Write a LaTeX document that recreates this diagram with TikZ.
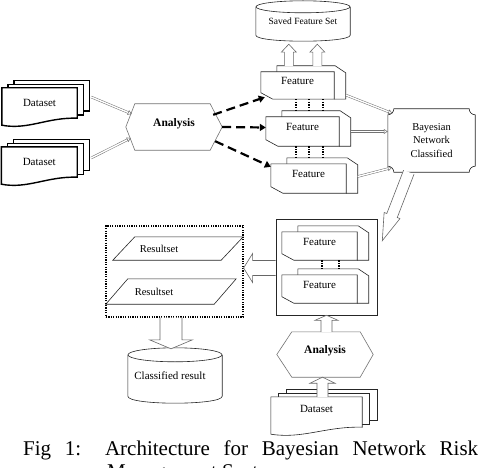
\documentclass[tikz,border=0pt]{standalone}
\usepackage{fontspec}
\setmainfont{Liberation Serif}
\usetikzlibrary{calc,arrows.meta,backgrounds}

\tikzset{
 lbl/.style={inner sep=0pt, font=\fontsize{11}{13}\selectfont},
 hexlbl/.style={inner sep=0pt, font=\bfseries\fontsize{11.5}{13}\selectfont, text depth=9pt},
 shp/.style={draw=black!85, line width=0.6pt, fill=white},
 grayshp/.style={draw=black!55, line width=0.6pt, fill=white},
 thickshp/.style={draw=black, line width=1.4pt, fill=white},
 dashar/.style={line width=2.2pt, dash pattern=on 9pt off 5pt, -{Triangle[length=6pt,width=7pt]}},
 dline/.style={draw=black!55, line width=0.5pt, double=white, double distance=1.4pt, -{Triangle[open,length=4pt,width=5pt]}},
 dotv/.style={line width=1.5pt, dash pattern=on 1.3pt off 1.3pt},
 blk/.style={draw=black!60, line width=0.6pt, fill=white},
 dotbox/.style={draw, line width=1.2pt, dash pattern=on 1.2pt off 1.2pt},
 captxt/.style={inner sep=0pt, font=\fontsize{21}{24}\selectfont},
}

\newcommand\docstack[4]{%
 \begin{scope}[on background layer]
 \draw[#4] ($(#1.north west)+(2*#2,-2*#3)$) rectangle ($(#1.south east)+(2*#2,-7)$);
 \draw[#4] ($(#1.north west)+(#2,-#3)$) rectangle ($(#1.south east)+(#2,-3)$);
 \draw[#4] (#1.north east) -- (#1.north west) -- ($(#1.south west)+(0,7)$) .. controls ($(#1.south west)!0.35!(#1.south east)+(0,12)$) and ($(#1.south west)!0.6!(#1.south east)+(0,-1)$) .. (#1.south east) -- cycle;
 \end{scope}}

\newcommand\featdraw[1]{%
 \begin{scope}[on background layer]
 \draw[shp] ($(#1.north west)+(16,0)$) -- ($(#1.north west)+(16,-6)$) -- ($(#1.north east)+(1,-6)$) -- ($(#1.north east)+(11.5,1)$) -- ($(#1.south east)+(11.5,0)$) -- (#1.south east);
 \draw[shp] (#1.north west) -- (#1.north east) -- (#1.south east) -- ($(#1.south west)+(12,0)$) -- ($(#1.south west)+(0,-6.5)$) -- cycle;
 \end{scope}}

\newcommand\hexdraw[3]{%
 \begin{scope}[on background layer]
 \draw[grayshp] (#1.west) -- ($(#1.north west)+(#2,0)$) -- ($(#1.north east)+(-#3,0)$) -- (#1.east) -- ($(#1.south east)+(-#3,0)$) -- ($(#1.south west)+(#2,0)$) -- cycle;
 \end{scope}}

\newcommand\cyldraw[3]{%
 \begin{scope}[on background layer]
 \draw[shp] (#1.north west) -- (#1.south west) .. controls ($(#1.south west)+(0,1.33*#2)$) and ($(#1.south east)+(0,1.33*#2)$) .. (#1.south east) -- (#1.north east);
 \draw[shp] (#1.north) ellipse [x radius=#3pt, y radius=#2pt];
 \end{scope}}

\newcommand\paradraw[2]{%
 \begin{scope}[on background layer]
 \draw[shp] ($(#1.north west)+(#2,0)$) -- (#1.north east) -- ($(#1.south east)+(-#2,0)$) -- (#1.south west) -- cycle;
 \end{scope}}

\newcommand\plaquedraw[2]{%
 \begin{scope}[on background layer]
 \draw[shp] ($(#1.north west)+(#2,0)$) -- ($(#1.north east)+(-#2,0)$)
  .. controls ($(#1.north east)+(-#2,0.55*#2)$) and ($(#1.north east)+(-0.55*#2,#2)$) .. ($(#1.north east)+(0,#2)$)
  -- ($(#1.south east)+(0,-#2)$)
  .. controls ($(#1.south east)+(-0.55*#2,-#2)$) and ($(#1.south east)+(-#2,-0.55*#2)$) .. ($(#1.south east)+(-#2,0)$)
  -- ($(#1.south west)+(#2,0)$)
  .. controls ($(#1.south west)+(#2,-0.55*#2)$) and ($(#1.south west)+(0.55*#2,-#2)$) .. ($(#1.south west)+(0,-#2)$)
  -- ($(#1.north west)+(0,#2)$)
  .. controls ($(#1.north west)+(0.55*#2,#2)$) and ($(#1.north west)+(#2,0.55*#2)$) .. cycle;
 \end{scope}}

\newcommand\blockarrow[5]{%
 \coordinate (bah) at ($(#2)!#5!(#1)$);
 \draw[blk] ($(#1)!#3!90:(#2)$) -- ($(bah)!#3!90:(#2)$) -- ($(bah)!#4!90:(#2)$) -- (#2)
  -- ($(bah)!#4!-90:(#2)$) -- ($(bah)!#3!-90:(#2)$) -- ($(#1)!#3!-90:(#2)$);
}

\begin{document}
\begin{tikzpicture}[x=1pt,y=-1pt]
\path[use as bounding box] (0,0) rectangle (479,468);
\clip (0,0) rectangle (479,468);

% left datasets
\node[lbl, minimum width=75pt, minimum height=30pt] (d1) at (39.5,103) {Dataset};
\docstack{d1}{6}{3.5}{thickshp}
\node[lbl, minimum width=75.5pt, minimum height=30pt] (d2) at (39.25,162) {Dataset};
\docstack{d2}{6}{3.5}{thickshp}

% top analysis
\node[hexlbl, minimum width=96pt, minimum height=46pt] (a1) at (174,127) {Analysis};
\hexdraw{a1}{9}{12}

% saved feature set
\node[lbl, font=\fontsize{9.5}{11}\selectfont, minimum width=94pt, minimum height=28pt] (sv) at (303,21) {Saved Feature Set};
\cyldraw{sv}{6}{47}

% features
\node[lbl, text depth=9pt, minimum width=73pt, minimum height=27pt] (f1) at (297.5,85.5) {Feature};
\featdraw{f1}
\node[lbl, text depth=9pt, minimum width=73pt, minimum height=29pt] (f2) at (302.5,131.5) {Feature};
\featdraw{f2}
\node[lbl, text depth=9pt, minimum width=75pt, minimum height=29pt] (f3) at (308.5,178.5) {Feature};
\featdraw{f3}

% Bayesian
\node[lbl, align=center, font=\fontsize{10.5}{13.5}\selectfont, minimum width=87pt, minimum height=63pt] (bn) at (431.5,140.5) {Bayesian\\Network\\Classified};
\plaquedraw{bn}{6}

% box with features
\node[draw=black!85, line width=0.6pt, minimum width=101pt, minimum height=96pt, inner sep=0pt] (bx) at (326.5,267) {};
\node[lbl, text depth=9pt, minimum width=75pt, minimum height=28pt] (f4) at (319.5,246) {Feature};
\featdraw{f4}
\node[lbl, text depth=9pt, minimum width=75pt, minimum height=28pt] (f5) at (319.5,289) {Feature};
\featdraw{f5}

% bottom analysis and dataset
\node[hexlbl, minimum width=96pt, minimum height=45pt] (a2) at (325,354.5) {Analysis};
\hexdraw{a2}{15}{13}
\node[lbl, text depth=7pt, minimum width=91pt, minimum height=30pt] (d3) at (316.5,412) {Dataset};
\docstack{d3}{7.5}{4}{shp}

% result box
\node[dotbox, minimum width=137pt, minimum height=91pt, inner sep=0pt] (rb) at (174.5,271.5) {};
\node[lbl, font=\fontsize{10.5}{12}\selectfont, minimum width=130pt, minimum height=23pt] (r1) at (178,248.5) {Resultset\hspace*{38pt}};
\paradraw{r1}{22}
\node[lbl, font=\fontsize{10.5}{12}\selectfont, minimum width=130pt, minimum height=25pt] (r2) at (171,291.5) {Resultset\hspace*{34pt}};
\paradraw{r2}{22}

% classified result
\node[lbl, font=\fontsize{11}{13}\selectfont, minimum width=94pt, minimum height=41pt] (cr) at (175,375.5) {Classified result\hspace*{10pt}};
\cyldraw{cr}{7}{47}

% connectors: datasets -> analysis
\draw[dline] ($(d1.east)+(14,-6)$) -- ($(a1.west)+(6,-13)$);
\draw[dline] ($(d2.east)+(14,-4)$) -- ($(a1.west)+(5,11)$);

% analysis -> features
\draw[dashar] ($(a1.north east)+(-9,11)$) -- ($(f1.south west)+(4,-2)$);
\draw[dashar] (a1.east) -- ($(f2.west)+(0,-4)$);
\draw[dashar] ($(a1.south east)+(-7,-9)$) -- ($(f3.north west)+(0,3)$);

% dotted links between features
\foreach \dx in {35,48,62} {\draw[dotv] ($(f1.south west)+(\dx,0)$) -- ($(f2.north west)+(\dx-5,-6)$);}
\foreach \dx in {30,43,57} {\draw[dotv] ($(f2.south west)+(\dx,0)$) -- ($(f3.north west)+(\dx-5,-6)$);}
\foreach \dx in {40,57} {\draw[dotv] ($(f4.south west)+(\dx,0)$) -- ($(f5.north west)+(\dx,-6)$);}

% features -> Bayesian
\draw[dline] ($(f1.south east)+(12,-4)$) -- ($(bn.north west)+(4.5,4.5)$);
\draw[dline] ($(f2.east)+(11.5,0)$) -- (f2.east -| bn.west);
\draw[dline] ($(f3.east)+(11.5,-2)$) -- ($(bn.south west)+(4,-4.5)$);

% block arrows
\coordinate (u1s) at ($(f1.north west)+(28,-6)$);
\coordinate (u1e) at ($(sv.south west)+(33,9)$);
\blockarrow{u1s}{u1e}{4.5pt}{7.5pt}{8pt}
\coordinate (u2s) at ($(f1.north west)+(56.5,-6)$);
\coordinate (u2e) at ($(sv.south west)+(61.5,9)$);
\blockarrow{u2s}{u2e}{4.5pt}{7.5pt}{8pt}

\coordinate (bas) at ($(bn.south west)+(21,0)$);
\coordinate (bae) at ($(bx.north east)+(5,22)$);
\blockarrow{bas}{bae}{5.6pt}{8.5pt}{27pt}

\coordinate (las) at ($(bx.west)+(0,1)$);
\coordinate (lae) at ($(rb.east)+(0,-3.5)$);
\blockarrow{las}{lae}{7.5pt}{14.5pt}{9pt}

\coordinate (vas) at ($(a2.north)+(1.5,0)$);
\coordinate (vae) at (bx.south);
\blockarrow{vas}{vae}{5.5pt}{11.5pt}{5pt}

\coordinate (das) at ($(d3.north)+(6,0)$);
\coordinate (dae) at ($(a2.south)+(-2.5,0)$);
\blockarrow{das}{dae}{5.5pt}{12.5pt}{6pt}

\coordinate (ras) at ($(rb.south)+(-3.5,0)$);
\coordinate (rae) at ($(cr.north)+(-4,-6)$);
\blockarrow{ras}{rae}{11pt}{21.5pt}{9pt}

% caption
\node[captxt, anchor=base west] (c1) at (23,455) {\makebox[455pt][s]{Fig 1: Architecture for Bayesian Network Risk}};
\node[captxt, anchor=base west] (c2) at (107,478) {Management System};
\end{tikzpicture}
\end{document}
